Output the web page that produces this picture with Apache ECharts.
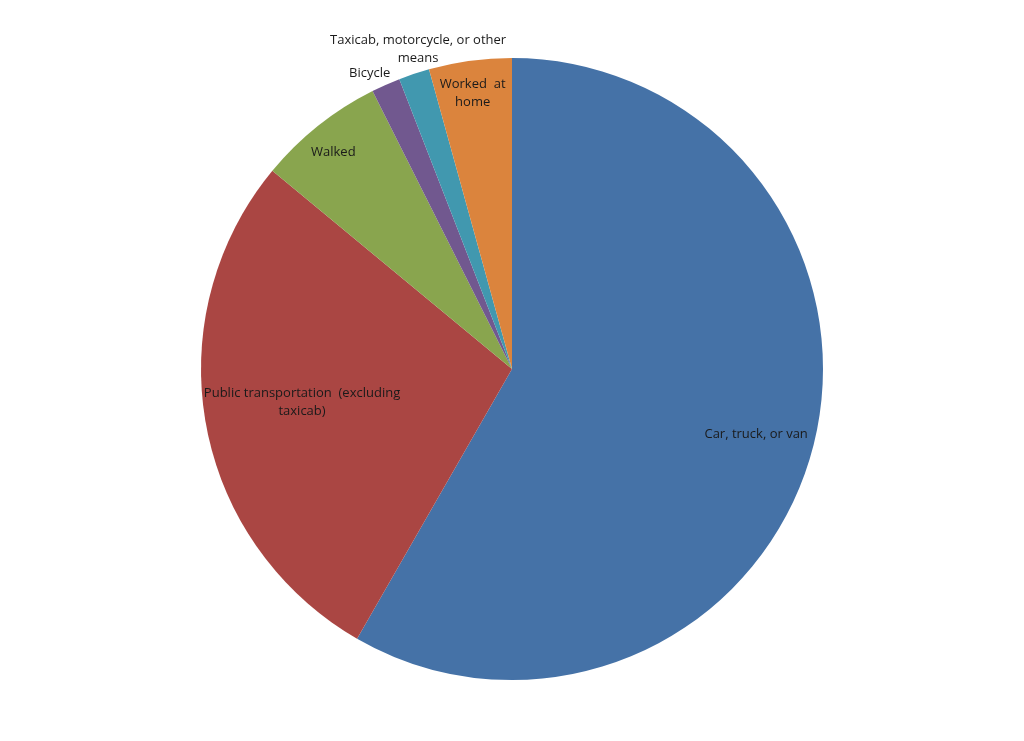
<!DOCTYPE html>
<html>
<head>
<meta charset="utf-8">
<script src="https://cdn.jsdelivr.net/npm/echarts@6/dist/echarts.min.js"></script>
<style>html,body{margin:0;padding:0;background:#fff}#c{width:1024px;height:741px}</style>
</head>
<body>
<div id="c"></div>
<script>
const categories = ['Car, truck, or van', 'Public transportation  (excluding taxicab)', 'Walked', 'Bicycle', 'Taxicab, motorcycle, or other means', 'Worked at home'];
const values = [58.3, 27.7, 6.6, 1.5, 1.6, 4.3];
const labelTexts = ['Car, truck, or van', 'Public transportation  (excluding\ntaxicab)', 'Walked', 'Bicycle', 'Taxicab, motorcycle, or other\nmeans', 'Worked  at\nhome'];
const colors = ['#4572A7', '#AA4643', '#89A54E', '#71588F', '#4198AF', '#DB843D'];
// label nudges (px) from the default inside position
const labelShift = [[91, 24], [-54, 5], [-80, -93], [-78, -151], [-44, -169], [-18, -119]];

const chart = echarts.init(document.getElementById('c'), null, {renderer: 'canvas'});
chart.setOption({
  animation: false,
  backgroundColor: '#fff',
  series: [{
    type: 'pie',
    center: [512, 369],
    radius: [0, 311],
    startAngle: 90,
    clockwise: true,
    avoidLabelOverlap: false,
    color: colors,
    itemStyle: {borderWidth: 0},
    label: {
      show: true,
      position: 'inside',
      color: '#1a1a1a',
      fontFamily: 'Open Sans',
      fontSize: 13,
      lineHeight: 18,
      align: 'center',
      formatter: p => labelTexts[p.dataIndex]
    },
    labelLine: {show: false},
    labelLayout: p => ({dx: labelShift[p.dataIndex][0], dy: labelShift[p.dataIndex][1]}),
    emphasis: {disabled: true},
    data: categories.map((c, i) => ({name: c, value: values[i]}))
  }]
});
</script>
</body>
</html>
